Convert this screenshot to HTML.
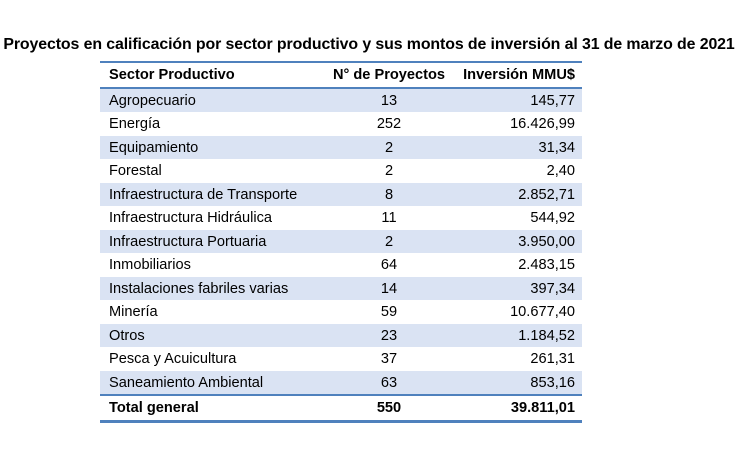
<!DOCTYPE html>
<html><head><style>
body{margin:0;width:738px;height:466px;background:#fff;font-family:"Liberation Sans",sans-serif;color:#000;position:relative;overflow:hidden}
.t{position:absolute;left:0;top:36px;width:738px;text-align:center;font-weight:bold;font-size:15.9px;letter-spacing:-0.1px;white-space:nowrap}
table{position:absolute;left:100px;top:61px;width:482px;border-collapse:collapse;font-size:14.6px}
td{height:22.5px;padding:1px 0 0 0;line-height:22.5px;white-space:nowrap}
td:first-child{padding-left:9px}
td:nth-child(2){text-align:center;width:124px}
td:nth-child(3){text-align:right;padding-right:7px;width:124px}
tr.h td{font-weight:bold;border-top:2px solid #4f81bd;border-bottom:2px solid #4f81bd;height:22px}
tr.s td{background:#dae3f3}
tr.f td{font-weight:bold;border-top:2px solid #4f81bd;border-bottom:3px solid #4f81bd}
</style></head><body>
<div class="t">Proyectos en calificación por sector productivo y sus montos de inversión al 31 de marzo de 2021</div>
<table>
<tr class="h"><td>Sector Productivo</td><td>N° de Proyectos</td><td>Inversión MMU$</td></tr>
<tr class="s"><td>Agropecuario</td><td>13</td><td>145,77</td></tr>
<tr><td>Energía</td><td>252</td><td>16.426,99</td></tr>
<tr class="s"><td>Equipamiento</td><td>2</td><td>31,34</td></tr>
<tr><td>Forestal</td><td>2</td><td>2,40</td></tr>
<tr class="s"><td>Infraestructura de Transporte</td><td>8</td><td>2.852,71</td></tr>
<tr><td>Infraestructura Hidráulica</td><td>11</td><td>544,92</td></tr>
<tr class="s"><td>Infraestructura Portuaria</td><td>2</td><td>3.950,00</td></tr>
<tr><td>Inmobiliarios</td><td>64</td><td>2.483,15</td></tr>
<tr class="s"><td>Instalaciones fabriles varias</td><td>14</td><td>397,34</td></tr>
<tr><td>Minería</td><td>59</td><td>10.677,40</td></tr>
<tr class="s"><td>Otros</td><td>23</td><td>1.184,52</td></tr>
<tr><td>Pesca y Acuicultura</td><td>37</td><td>261,31</td></tr>
<tr class="s"><td>Saneamiento Ambiental</td><td>63</td><td>853,16</td></tr>
<tr class="f"><td>Total general</td><td>550</td><td>39.811,01</td></tr>
</table>
</body></html>
